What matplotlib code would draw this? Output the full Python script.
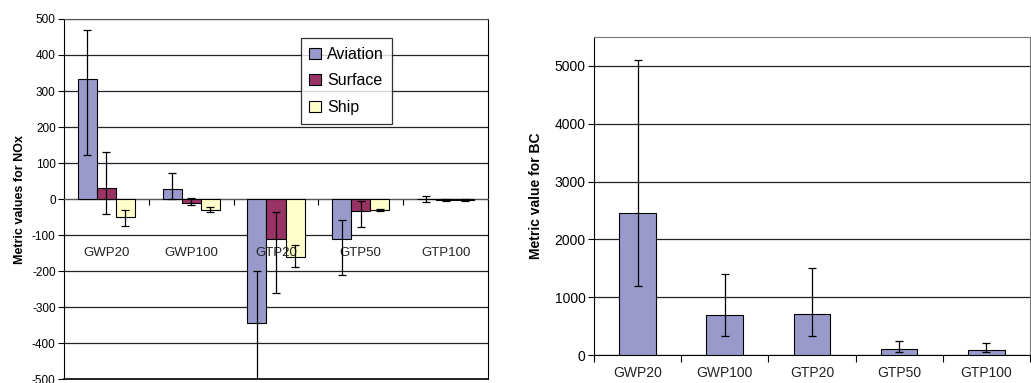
import matplotlib
matplotlib.use("Agg")
import matplotlib.pyplot as plt
import numpy as np

plt.rcParams['font.family'] = ['Liberation Sans', 'DejaVu Sans']
plt.rcParams['axes.unicode_minus'] = False

# data
metrics = ['GWP20', 'GWP100', 'GTP20', 'GTP50', 'GTP100']
sectors = ['Aviation', 'Surface', 'Ship']
sector_colors = ['#9999CC', '#993366', '#FFFFCC']

nox_aviation = [333, 28, -345, -110, -1]
nox_aviation_hi = [470, 72, -200, -58, 8]
nox_aviation_lo = [122, 0, -520, -210, -8]

nox_surface = [30, -10, -112, -33, -3]
nox_surface_hi = [130, 3, -37, -6, -1]
nox_surface_lo = [-42, -18, -260, -78, -5]

nox_ship = [-50, -30, -160, -30, -3]
nox_ship_hi = [-30, -22, -128, -28, -1]
nox_ship_lo = [-75, -35, -190, -33, -5]

bc_values = [2450, 700, 720, 115, 95]
bc_hi = [5100, 1400, 1500, 245, 210]
bc_lo = [1200, 340, 340, 60, 55]

fig = plt.figure(figsize=(10.31, 3.83), dpi=100)

# ---- left panel: NOx ----
ax1 = fig.add_axes([0.0621, 0.0104, 0.4112, 0.94])
x = np.arange(len(metrics))
w = 0.225
series = [(nox_aviation, nox_aviation_hi, nox_aviation_lo),
          (nox_surface, nox_surface_hi, nox_surface_lo),
          (nox_ship, nox_ship_hi, nox_ship_lo)]
for k, (vals, hi, lo) in enumerate(series):
    vals = np.array(vals, float)
    err = [vals - np.array(lo), np.array(hi) - vals]
    xs = x + (k - 1) * w
    ax1.bar(xs, vals, w, color=sector_colors[k], edgecolor='black',
            linewidth=0.8, label=sectors[k], zorder=3)
    ax1.errorbar(xs, vals, yerr=err, fmt='none', ecolor='black',
                 elinewidth=0.9, capsize=3.2, capthick=0.9, zorder=4)

ax1.set_xlim(-0.5, 4.5)
ax1.set_ylim(-500, 500)
ax1.set_yticks(np.arange(-500, 501, 100))
ax1.tick_params(axis='y', labelsize=8.5, length=4, width=0.8, pad=2)
ax1.grid(axis='y', color='#222222', linewidth=0.9, zorder=0)
ax1.set_axisbelow(True)
ax1.spines['bottom'].set_position(('data', 0))
ax1.spines['bottom'].set_color('#555555')
ax1.spines['top'].set_color('#555555')
ax1.set_xticks([])
ax1.set_xticks(np.arange(-0.5, 4.6, 1), minor=True)
ax1.tick_params(axis='x', which='minor', length=4, width=0.8, direction='out')
ax1.plot([0, 1], [0, 0], transform=ax1.transAxes, color='black',
         linewidth=1.2, clip_on=False)
for i, m in enumerate(metrics):
    ax1.text(i, -150, m, ha='center', va='center', fontsize=9.5, color='#222222')
ax1.set_ylabel('Metric values for NOx', fontsize=9, fontweight='bold', labelpad=4)

leg = ax1.legend(loc='upper left', bbox_to_anchor=(0.558, 0.947), fontsize=11.5,
                 frameon=True, fancybox=False, edgecolor='black',
                 handlelength=0.7, handleheight=0.7, labelspacing=0.72,
                 borderpad=0.55, handletextpad=0.4, borderaxespad=0)
leg.get_frame().set_linewidth(0.9)
leg.set_zorder(5)

# ---- right panel: BC ----
ax2 = fig.add_axes([0.5761, 0.0723, 0.4229, 0.8319])
bc = np.array(bc_values, float)
bc_err = [bc - np.array(bc_lo), np.array(bc_hi) - bc]
ax2.bar(x, bc, 0.42, color=sector_colors[0], edgecolor='black',
        linewidth=0.8, zorder=3)
ax2.errorbar(x, bc, yerr=bc_err, fmt='none', ecolor='black',
             elinewidth=0.9, capsize=3, capthick=0.9, zorder=4)
ax2.set_xlim(-0.5, 4.5)
ax2.set_ylim(0, 5500)
ax2.set_yticks(np.arange(0, 5001, 1000))
ax2.tick_params(axis='y', labelsize=10, length=4, width=0.8, pad=2)
ax2.grid(axis='y', color='#222222', linewidth=0.9, zorder=0)
ax2.set_axisbelow(True)
ax2.spines['top'].set_color('#777777')
ax2.spines['right'].set_color('#777777')
ax2.set_xticks(x)
ax2.set_xticklabels(metrics, fontsize=10, color='#222222')
ax2.tick_params(axis='x', which='major', length=0, pad=8)
ax2.set_xticks(np.arange(-0.5, 4.6, 1), minor=True)
ax2.tick_params(axis='x', which='minor', length=5, width=0.8, direction='out')
ax2.set_ylabel('Metric value for BC', fontsize=10, fontweight='bold', labelpad=8)

fig.savefig('out.png', dpi=100)
